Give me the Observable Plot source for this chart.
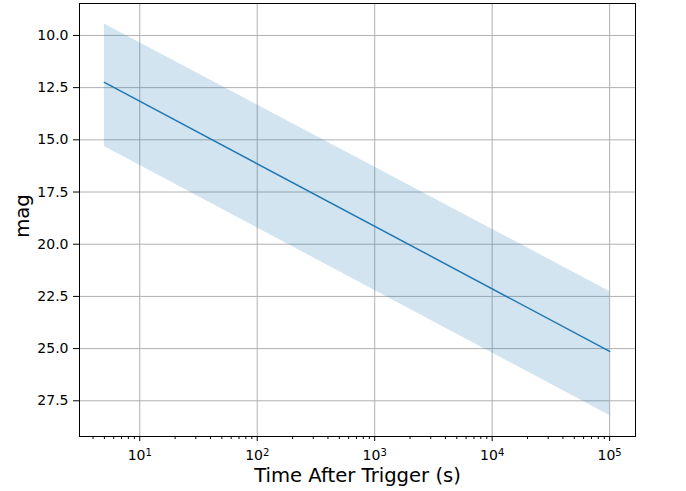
<!DOCTYPE html>
<html><head><meta charset="utf-8">
<script src="https://cdn.jsdelivr.net/npm/d3@7"></script>
<script src="https://cdn.jsdelivr.net/npm/@observablehq/plot@0.6"></script>
<style>body{margin:0;background:#fff;} svg{font-family:"DejaVu Sans";}</style>
</head><body><div id="chart"></div>
<script>
// Data
const times = [5, 1e5];
const mags = [12.25, 25.13];
const bandBright = [9.45, 22.26];
const bandFaint = [15.32, 28.2];

// Axis ticks
const xMajorTicks = [1e1, 1e2, 1e3, 1e4, 1e5];
const xMinorTicks = [4, 5, 6, 7, 8, 9,
  20, 30, 40, 50, 60, 70, 80, 90,
  200, 300, 400, 500, 600, 700, 800, 900,
  2000, 3000, 4000, 5000, 6000, 7000, 8000, 9000,
  20000, 30000, 40000, 50000, 60000, 70000, 80000, 90000];
const yTicks = [10, 12.5, 15, 17.5, 20, 22.5, 25, 27.5];

const data = times.map((t, i) => ({t, mag: mags[i], lo: bandBright[i], hi: bandFaint[i]}));
const fmtPow = d => "10^" + Math.round(Math.log10(d));

const chart = Plot.plot({
  width: 686, height: 491,
  marginLeft: 79, marginRight: 51, marginTop: 3, marginBottom: 55,
  style: {fontFamily: "DejaVu Sans", fontSize: "14px", background: "white", color: "black", overflow: "visible"},
  x: {type: "log", domain: [3.07, 1.66e5]},
  y: {domain: [8.47, 29.21], reverse: true},
  marks: [
    Plot.gridX(xMajorTicks, {stroke: "#b0b0b0", strokeOpacity: 1, strokeWidth: 1}),
    Plot.gridY(yTicks, {stroke: "#b0b0b0", strokeOpacity: 1, strokeWidth: 1}),
    Plot.areaY(data, {x: "t", y1: "lo", y2: "hi", fill: "#1f77b4", fillOpacity: 0.2}),
    Plot.lineY(data, {x: "t", y: "mag", stroke: "#1f77b4", strokeWidth: 1.5}),
    Plot.frame({stroke: "black", strokeWidth: 1}),
    Plot.axisY(yTicks, {tickSize: 6, tickPadding: 5, tickFormat: d => d.toFixed(1), label: null, fontSize: 14}),
    Plot.axisX(xMajorTicks, {tickSize: 5, tickPadding: 9, tickFormat: fmtPow, label: null, fontSize: 14, ariaLabel: "x-major"}),
    Plot.axisX(xMinorTicks, {tickSize: 3, tickFormat: () => "", label: null}),
    Plot.text(["mag"], {frameAnchor: "left", dx: -57, dy: -4, rotate: -90, textAnchor: "middle", lineAnchor: "middle", fontSize: 19.6, fill: "black"}),
    Plot.text(["Time After Trigger (s)"], {frameAnchor: "bottom", dy: 39, textAnchor: "middle", lineAnchor: "middle", fontSize: 19.6, fill: "black"})
  ]
});
// Render "10^n" tick labels with a real superscript
d3.select(chart).selectAll("text").each(function() {
  const t = this.textContent;
  const m = /^10\^(-?\d+)$/.exec(t);
  if (!m) return;
  const sel = d3.select(this);
  sel.text("10");
  sel.append("tspan").attr("dy", "-0.45em").attr("font-size", "10px").text(m[1]);
});
document.getElementById("chart").appendChild(chart);
</script>
</body></html>
